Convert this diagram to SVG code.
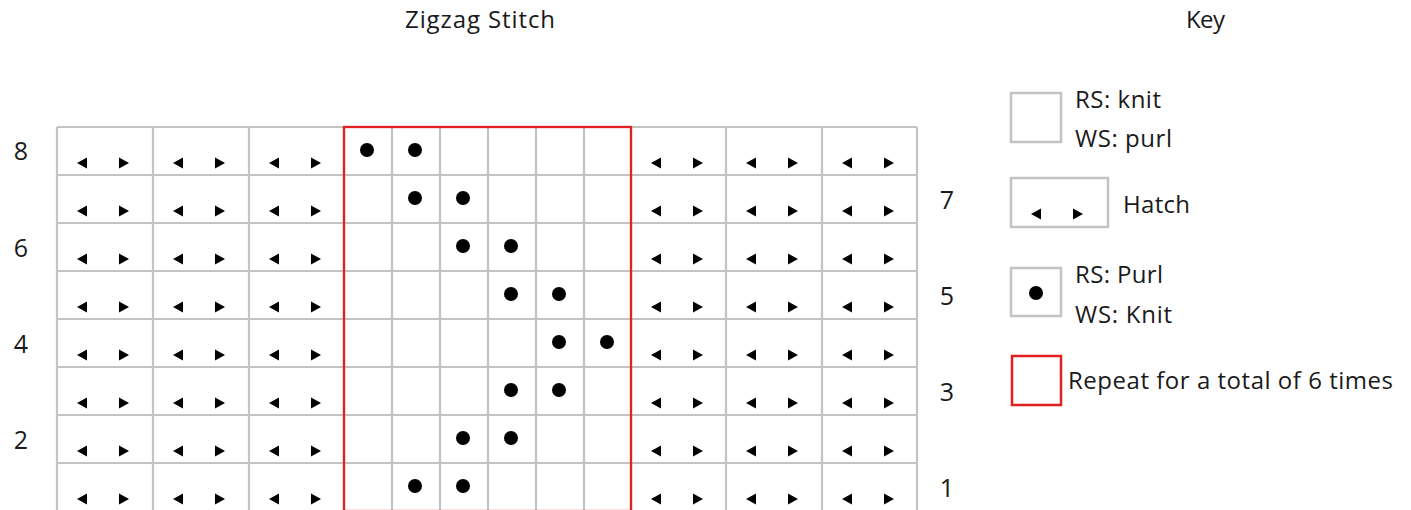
<svg xmlns="http://www.w3.org/2000/svg" xmlns:xlink="http://www.w3.org/1999/xlink" width="1411" height="510" viewBox="0 0 1411 510">
<style>
text{font-family:"Open Sans","Noto Sans","Liberation Sans",sans-serif;font-size:24px;fill:#1a1a1a}
.n{font-size:25px;text-anchor:middle}
.g{stroke:#c3c3c3;stroke-width:2.2;fill:none}
.r{stroke:#e32020;stroke-width:2.3;fill:none}
.kb{stroke:#c3c3c3;stroke-width:2.5;fill:#fff}
</style>
<defs>
<g id="h"><polygon points="20,36 30,30.5 30,41.5" fill="#000"/><polygon points="72,36 62,30.5 62,41.5" fill="#000"/></g>
<circle id="d" r="7" fill="#000"/>
</defs>
<rect width="1411" height="510" fill="#fff"/>
<g id="title"><text x="405" y="28" textLength="150">Zigzag Stitch</text></g>
<g id="key-title"><text x="1186" y="28" textLength="39">Key</text></g>
<g id="grid">
<path class="g" d="M57 127H917M57 175H917M57 223H917M57 271H917M57 319H917M57 367H917M57 415H917M57 463H917M57 511H917M57 127V511M153 127V511M249 127V511M344 127V511M392 127V511M440 127V511M488 127V511M536 127V511M584 127V511M631 127V511M726 127V511M822 127V511M917 127V511"/>
</g>
<g id="hatch">
<use xlink:href="#h" x="57" y="127"/><use xlink:href="#h" x="153" y="127"/><use xlink:href="#h" x="249" y="127"/><use xlink:href="#h" x="631" y="127"/><use xlink:href="#h" x="726" y="127"/><use xlink:href="#h" x="822" y="127"/>
<use xlink:href="#h" x="57" y="175"/><use xlink:href="#h" x="153" y="175"/><use xlink:href="#h" x="249" y="175"/><use xlink:href="#h" x="631" y="175"/><use xlink:href="#h" x="726" y="175"/><use xlink:href="#h" x="822" y="175"/>
<use xlink:href="#h" x="57" y="223"/><use xlink:href="#h" x="153" y="223"/><use xlink:href="#h" x="249" y="223"/><use xlink:href="#h" x="631" y="223"/><use xlink:href="#h" x="726" y="223"/><use xlink:href="#h" x="822" y="223"/>
<use xlink:href="#h" x="57" y="271"/><use xlink:href="#h" x="153" y="271"/><use xlink:href="#h" x="249" y="271"/><use xlink:href="#h" x="631" y="271"/><use xlink:href="#h" x="726" y="271"/><use xlink:href="#h" x="822" y="271"/>
<use xlink:href="#h" x="57" y="319"/><use xlink:href="#h" x="153" y="319"/><use xlink:href="#h" x="249" y="319"/><use xlink:href="#h" x="631" y="319"/><use xlink:href="#h" x="726" y="319"/><use xlink:href="#h" x="822" y="319"/>
<use xlink:href="#h" x="57" y="367"/><use xlink:href="#h" x="153" y="367"/><use xlink:href="#h" x="249" y="367"/><use xlink:href="#h" x="631" y="367"/><use xlink:href="#h" x="726" y="367"/><use xlink:href="#h" x="822" y="367"/>
<use xlink:href="#h" x="57" y="415"/><use xlink:href="#h" x="153" y="415"/><use xlink:href="#h" x="249" y="415"/><use xlink:href="#h" x="631" y="415"/><use xlink:href="#h" x="726" y="415"/><use xlink:href="#h" x="822" y="415"/>
<use xlink:href="#h" x="57" y="463"/><use xlink:href="#h" x="153" y="463"/><use xlink:href="#h" x="249" y="463"/><use xlink:href="#h" x="631" y="463"/><use xlink:href="#h" x="726" y="463"/><use xlink:href="#h" x="822" y="463"/>
</g>
<g id="purls">
<use xlink:href="#d" x="367" y="150"/><use xlink:href="#d" x="415" y="150"/>
<use xlink:href="#d" x="415" y="198"/><use xlink:href="#d" x="463" y="198"/>
<use xlink:href="#d" x="463" y="246"/><use xlink:href="#d" x="511" y="246"/>
<use xlink:href="#d" x="511" y="294"/><use xlink:href="#d" x="559" y="294"/>
<use xlink:href="#d" x="559" y="342"/><use xlink:href="#d" x="607" y="342"/>
<use xlink:href="#d" x="511" y="390"/><use xlink:href="#d" x="559" y="390"/>
<use xlink:href="#d" x="463" y="438"/><use xlink:href="#d" x="511" y="438"/>
<use xlink:href="#d" x="415" y="486"/><use xlink:href="#d" x="463" y="486"/>
</g>
<g id="repeat"><rect class="r" x="344" y="127" width="287" height="384"/></g>
<g id="row-labels">
<text x="21" y="160" class="n">8</text>
<text x="21" y="257" class="n">6</text>
<text x="21" y="353" class="n">4</text>
<text x="21" y="449" class="n">2</text>
<text x="947" y="209" class="n">7</text>
<text x="947" y="305" class="n">5</text>
<text x="947" y="401" class="n">3</text>
<text x="947" y="497" class="n">1</text>
</g>
<g id="key-knit"><rect class="kb" x="1011" y="93" width="50" height="49"/><text x="1075" y="108" textLength="86">RS: knit</text><text x="1075" y="147" textLength="97">WS: purl</text></g>
<g id="key-hatch"><rect class="kb" x="1011" y="178" width="97" height="49"/><use xlink:href="#h" x="1011" y="178"/><text x="1123" y="213" textLength="67">Hatch</text></g>
<g id="key-purl"><rect class="kb" x="1011" y="268" width="50" height="48"/><use xlink:href="#d" x="1036" y="293"/><text x="1075" y="283" textLength="88">RS: Purl</text><text x="1075" y="323" textLength="97">WS: Knit</text></g>
<g id="key-repeat"><rect class="r" x="1012" y="356" width="49" height="49" style="stroke-width:2.5"/><text x="1068" y="389" textLength="325">Repeat for a total of 6 times</text></g>
</svg>
